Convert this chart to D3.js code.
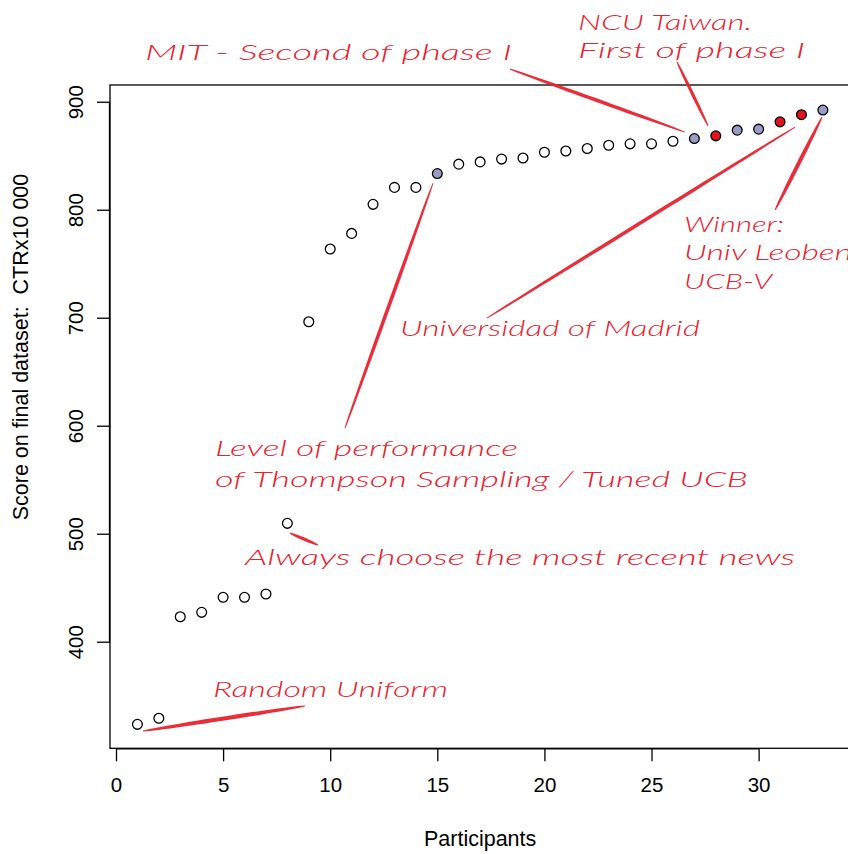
<!DOCTYPE html>
<html>
<head>
<meta charset="utf-8">
<script src="https://cdn.jsdelivr.net/npm/d3@7"></script>
<style>
  html, body { margin: 0; padding: 0; background: #ffffff; }
  svg { display: block; }
  .tick text { font-family: "Liberation Sans", Arial, Helvetica, sans-serif; }
</style>
</head>
<body>
<svg id="chart" width="848" height="854"></svg>
<script>
// ---------------- data ----------------
const participants = [1,2,3,4,5,6,7,8,9,10,11,12,13,14,15,16,17,18,19,20,21,22,23,24,25,26,27,28,29,30,31,32,33];
const scores = [323.5, 329.1, 423.1, 427.2, 441.1, 441.1, 444.2, 509.6, 696.3, 763.6, 778.1, 805.0, 820.7, 820.7,
                833.5, 842.2, 844.3, 846.9, 847.9, 853.2, 854.4, 856.7, 859.7, 861.0, 861.0, 863.4, 865.9, 868.4,
                873.7, 874.6, 881.4, 888.0, 892.3];
// n = none, b = highlighted (blue-grey), r = phase winners (red)
const pointGroup = ["n","n","n","n","n","n","n","n","n","n","n","n","n","n","b","n","n","n","n","n","n","n","n","n","n","n","b","r","b","b","r","r","b"];
const xTicks = [0, 5, 10, 15, 20, 25, 30];
const yTicks = [400, 500, 600, 700, 800, 900];
const xLabel = "Participants";
const yLabel = "Score on final dataset:  CTRx10 000";

// annotation strokes (data coordinates: participant, score)
const annoLines = [
  { from: [1.26, 317.3], to: [8.82, 340.5], w: 4.2 },   // Random Uniform
  { from: [8.12, 500.6], to: [9.43, 489.5], w: 3.2 },   // Always most recent
  { from: [10.69, 597.9], to: [14.80, 824.7], w: 3.6 }, // Thompson / Tuned UCB
  { from: [17.32, 699.7], to: [31.70, 876.6], w: 3.6 }, // Madrid
  { from: [30.77, 799.7], to: [32.96, 885.8], w: 4.0 }, // Winner
  { from: [18.39, 930.3], to: [26.56, 871.9], w: 3.6 }, // MIT
  { from: [26.19, 936.8], to: [27.64, 877.5], w: 3.2 }  // NCU
];
// annotation texts (start participant, baseline score, span in participants)
const annoTexts = [
  { text: "MIT - Second of phase I", at: [1.35, 938.6], span: 17.13 },
  { text: "NCU Taiwan.", at: [21.57, 966.4], span: 8.12 },
  { text: "First of phase I", at: [21.57, 940.5], span: 10.6 },
  { text: "Winner:", at: [26.52, 779.4], span: 4.67 },
  { text: "Univ Leoben", at: [26.52, 753.4], span: 7.84 },
  { text: "UCB-V", at: [26.52, 726.6], span: 4.11 },
  { text: "Universidad of Madrid", at: [13.26, 683.1], span: 14.0 },
  { text: "Level of performance", at: [4.62, 571.9], span: 14.15 },
  { text: "of Thompson Sampling / Tuned UCB", at: [4.62, 543.2], span: 24.88 },
  { text: "Always choose the most recent news", at: [6.02, 471.0], span: 25.68 },
  { text: "Random Uniform", at: [4.53, 348.8], span: 10.97 }
];

// ---------------- layout ----------------
const svg = d3.select("#chart");
const plot = { left: 110, right: 850.3, top: 85, bottom: 748.3 };

const x = d3.scaleLinear().domain([-0.28, 34.28]).range([plot.left, plot.right]);
const y = d3.scaleLinear().domain([301.3, 915.5]).range([plot.bottom, plot.top]);

const fillFor = { n: "#ffffff", b: "#9b9bc6", r: "#e3121f" };
const annoRed = "#e8222e";
const tickFont = 20.5;
const titleFont = 21.5;

// box
svg.append("rect")
  .attr("x", plot.left).attr("y", plot.top)
  .attr("width", plot.right - plot.left).attr("height", plot.bottom - plot.top)
  .attr("fill", "none").attr("stroke", "#000").attr("stroke-width", 1.3);

// x axis
const xAxis = svg.append("g")
  .attr("transform", `translate(0,${plot.bottom})`)
  .call(d3.axisBottom(x).tickValues(xTicks).tickSize(13).tickPadding(16).tickFormat(d3.format("d")));
xAxis.select(".domain").attr("d", `M${x(0)},0.5H${x(30)}`).attr("stroke-width", 1.3);
xAxis.selectAll(".tick line").attr("stroke-width", 1.3);
xAxis.selectAll(".tick text").attr("font-size", tickFont).attr("fill", "#000");

// y axis
const yAxis = svg.append("g")
  .attr("transform", `translate(${plot.left},0)`)
  .call(d3.axisLeft(y).tickValues(yTicks).tickSize(13).tickPadding(0).tickFormat(d3.format("d")));
yAxis.select(".domain").attr("d", `M-0.5,${y(400)}V${y(900)}`).attr("stroke-width", 1.3);
yAxis.selectAll(".tick line").attr("stroke-width", 1.3);
yAxis.selectAll(".tick text")
  .attr("font-size", tickFont).attr("fill", "#000")
  .attr("text-anchor", "middle")
  .attr("x", 0).attr("dy", null).attr("y", 0)
  .attr("transform", "translate(-35,0) rotate(-90)")
  .attr("dominant-baseline", "central");

// axis titles
svg.append("text")
  .attr("x", (plot.left + plot.right) / 2).attr("y", 846)
  .attr("text-anchor", "middle")
  .attr("font-family", "'Liberation Sans', Arial, sans-serif")
  .attr("font-size", titleFont)
  .text(xLabel);

svg.append("text")
  .attr("transform", `translate(28,347) rotate(-90)`)
  .attr("text-anchor", "middle")
  .attr("font-family", "'Liberation Sans', Arial, sans-serif")
  .attr("font-size", titleFont)
  .attr("xml:space", "preserve")
  .style("white-space", "pre")
  .text(yLabel);

// tapered brush strokes
function brushPath(p0, p1, w) {
  const dx = p1[0] - p0[0], dy = p1[1] - p0[1];
  const len = Math.hypot(dx, dy);
  const nx = -dy / len, ny = dx / len;
  const steps = 24;
  const top = [], bot = [];
  for (let i = 0; i <= steps; i++) {
    const t = i / steps;
    const hw = (w / 2) * (0.25 + 0.75 * Math.pow(Math.sin(Math.PI * t), 0.6));
    const px = p0[0] + dx * t, py = p0[1] + dy * t;
    top.push([px + nx * hw, py + ny * hw]);
    bot.push([px - nx * hw, py - ny * hw]);
  }
  const pts = top.concat(bot.reverse());
  return "M" + pts.map(p => p[0].toFixed(2) + "," + p[1].toFixed(2)).join("L") + "Z";
}

svg.append("g").selectAll("path")
  .data(annoLines)
  .join("path")
  .attr("d", d => brushPath([x(d.from[0]), y(d.from[1])], [x(d.to[0]), y(d.to[1])], d.w))
  .attr("fill", annoRed)
  .attr("opacity", 0.95);

// points
svg.append("g").selectAll("circle")
  .data(participants.map((p, i) => ({ p, s: scores[i], g: pointGroup[i] })))
  .join("circle")
  .attr("cx", d => x(d.p))
  .attr("cy", d => y(d.s))
  .attr("r", 4.9)
  .attr("fill", d => fillFor[d.g])
  .attr("stroke", "#000")
  .attr("stroke-width", 1.3);

// annotation texts
svg.append("g").selectAll("text")
  .data(annoTexts)
  .join("text")
  .attr("x", d => x(d.at[0]))
  .attr("y", d => y(d.at[1]))
  .attr("textLength", d => x(d.at[0] + d.span) - x(d.at[0]))
  .attr("lengthAdjust", "spacingAndGlyphs")
  .attr("font-family", "Lato, 'Open Sans', 'DejaVu Sans', sans-serif")
  .attr("font-style", "italic")
  .attr("font-weight", 300)
  .attr("font-size", 22)
  .attr("fill", annoRed)
  .text(d => d.text);
</script>
</body>
</html>
